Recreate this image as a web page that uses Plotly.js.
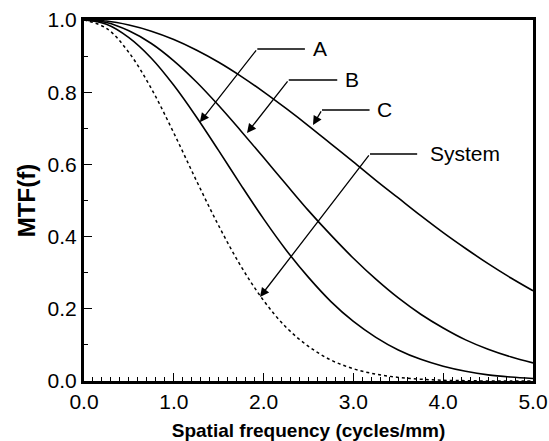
<!DOCTYPE html>
<html>
<head>
<meta charset="utf-8">
<script src="https://cdn.plot.ly/plotly-3.0.1.min.js"></script>
<style>html,body{margin:0;padding:0;background:#fff;}#chart{width:549px;height:441px;}</style>
</head>
<body>
<div id="chart"></div>
<script>
// Spatial frequency samples (cycles/mm)
const freq = [0, 0.25, 0.5, 0.75, 1.0, 1.25, 1.5, 1.75, 2.0, 2.25, 2.5, 2.75, 3.0, 3.25, 3.5, 3.75, 4.0, 4.25, 4.5, 4.75, 5.0];
// MTF values
const mtfA = [1, 0.988, 0.951, 0.894, 0.819, 0.732, 0.638, 0.542, 0.449, 0.363, 0.287, 0.220, 0.165, 0.121, 0.086, 0.060, 0.041, 0.027, 0.017, 0.011, 0.007];
const mtfB = [1, 0.993, 0.970, 0.935, 0.887, 0.829, 0.763, 0.692, 0.619, 0.545, 0.472, 0.404, 0.340, 0.282, 0.230, 0.185, 0.147, 0.114, 0.088, 0.067, 0.050];
const mtfC = [1, 0.997, 0.986, 0.969, 0.946, 0.917, 0.883, 0.844, 0.801, 0.755, 0.707, 0.657, 0.607, 0.556, 0.507, 0.458, 0.411, 0.367, 0.325, 0.286, 0.250];
const mtfSystem = [1, 0.977, 0.910, 0.810, 0.687, 0.556, 0.430, 0.317, 0.223, 0.149, 0.096, 0.058, 0.034, 0.019, 0.010, 0.005, 0.002, 0.001, 0.000, 0.000, 0.000];

const xTickVals = [0, 1, 2, 3, 4, 5];
const xTickText = ['0.0', '1.0', '2.0', '3.0', '4.0', '5.0'];
const yTickVals = [0, 0.2, 0.4, 0.6, 0.8, 1.0];
const yTickText = ['0.0', '0.2', '0.4', '0.6', '0.8', '1.0'];

// Callout labels: text, arrow tip, elbow, end of horizontal leader
const labelNames = ['A', 'B', 'C', 'System'];
const tipX = [1.29, 1.815, 2.55, 1.96];
const tipY = [0.717, 0.687, 0.709, 0.233];
const elbowX = [1.93, 2.28, 2.65, 3.185];
const elbowY = [0.920, 0.834, 0.751, 0.629];
const leaderEndX = [2.46, 2.82, 3.18, 3.71];
const labelX = [2.53, 2.88, 3.24, 3.83];

const FONT = 'Liberation Sans, Arial, sans-serif';

function curve(y, dash) {
  return {
    x: freq, y: y, type: 'scatter', mode: 'lines',
    line: {color: '#000', width: dash ? 1.5 : 1.6, dash: dash || 'solid', shape: 'spline', smoothing: 1},
    hoverinfo: 'skip', showlegend: false
  };
}

const data = [curve(mtfSystem, 'dot'), curve(mtfA), curve(mtfB), curve(mtfC)];

const shapes = [];
const annotations = [];
for (let i = 0; i < labelNames.length; i++) {
  shapes.push({type: 'line', xref: 'x', yref: 'y', x0: elbowX[i], y0: elbowY[i], x1: leaderEndX[i], y1: elbowY[i],
    line: {color: '#000', width: 1.5}});
  annotations.push({x: tipX[i], y: tipY[i], ax: elbowX[i], ay: elbowY[i], axref: 'x', ayref: 'y', xref: 'x', yref: 'y',
    text: '', showarrow: true, arrowhead: 2, arrowsize: 1.4, arrowwidth: 1.3, arrowcolor: '#000', standoff: 0, startstandoff: 0});
  annotations.push({x: labelX[i], y: elbowY[i], xref: 'x', yref: 'y', text: labelNames[i], showarrow: false,
    xanchor: 'left', yanchor: 'middle', font: {family: FONT, size: 21, color: '#000'}});
}

const layout = {
  width: 549, height: 441,
  margin: {l: 84, r: 16, t: 20, b: 60},
  paper_bgcolor: '#fff', plot_bgcolor: '#fff',
  font: {family: FONT, color: '#000'},
  xaxis: {
    range: [0, 5], tickvals: xTickVals, ticktext: xTickText,
    ticks: 'inside', ticklen: 8, tickwidth: 1.2, tickcolor: '#000',
    minor: {dtick: 0.1, tick0: 0, ticks: 'inside', ticklen: 4, tickwidth: 1, tickcolor: '#000'},
    showgrid: false, zeroline: false, showline: true, linewidth: 3, linecolor: '#000', mirror: true,
    tickfont: {family: FONT, size: 21, color: '#000'},
    title: {text: '<b>Spatial frequency (cycles/mm)</b>', font: {family: FONT, size: 19, color: '#000'}, standoff: 12}
  },
  yaxis: {
    range: [0, 1], tickvals: yTickVals, ticktext: yTickText,
    ticks: 'inside', ticklen: 8, tickwidth: 1.2, tickcolor: '#000',
    minor: {dtick: 0.1, tick0: 0, ticks: 'inside', ticklen: 4, tickwidth: 1, tickcolor: '#000'},
    showgrid: false, zeroline: false, showline: true, linewidth: 3, linecolor: '#000', mirror: true,
    tickfont: {family: FONT, size: 21, color: '#000'},
    title: {text: '<b>MTF(f)</b>', font: {family: FONT, size: 24, color: '#000'}, standoff: 6}
  },
  shapes: shapes,
  annotations: annotations
};

Plotly.newPlot('chart', data, layout, {staticPlot: true, displayModeBar: false});
</script>
</body>
</html>
